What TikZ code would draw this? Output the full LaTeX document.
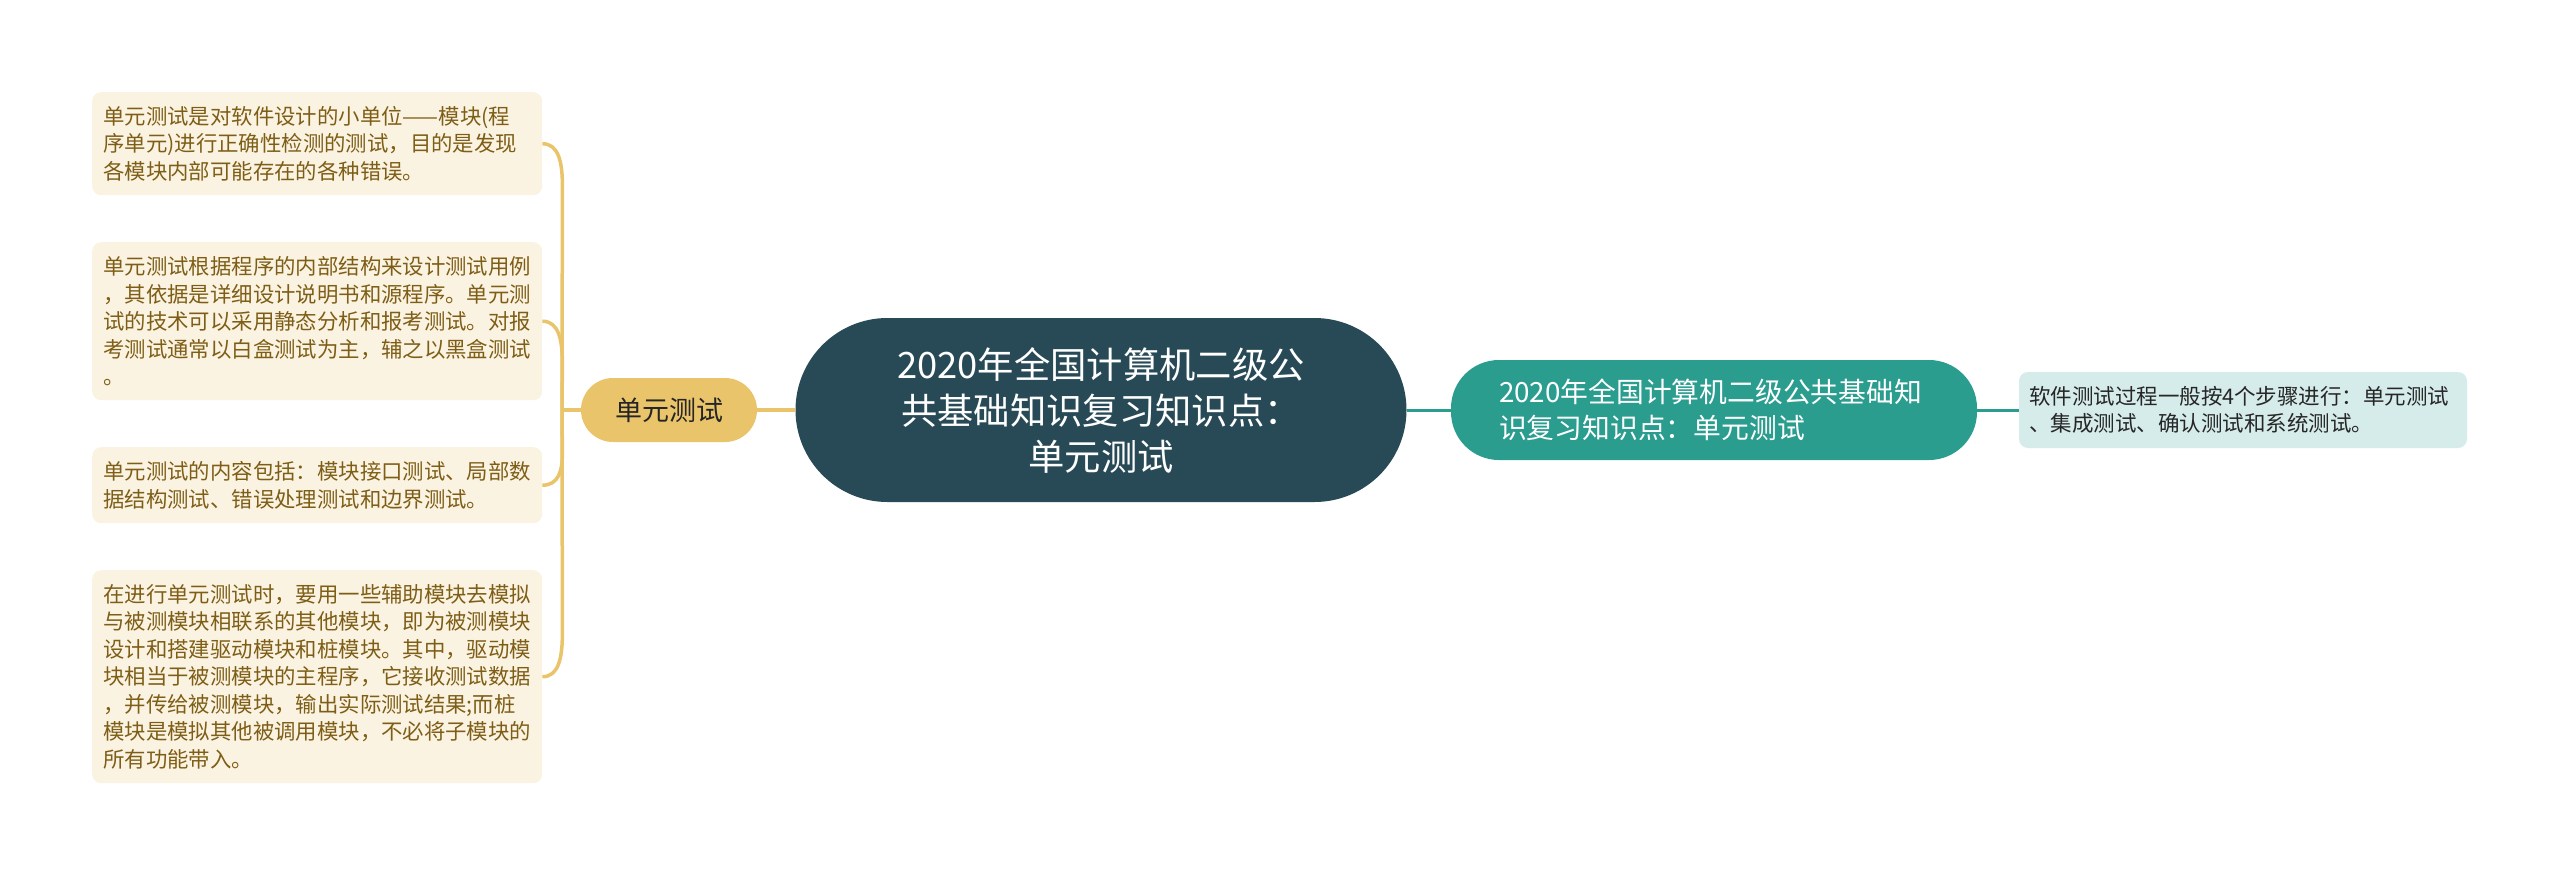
\documentclass[tikz,border=0pt]{standalone}
\usepackage{fontspec}
\setmainfont{Noto Sans CJK SC}
\usetikzlibrary{calc}
\definecolor{cdark}{HTML}{274A56}
\definecolor{cteal}{HTML}{2A9D8F}
\definecolor{cgold}{HTML}{E9C46A}
\definecolor{ccream}{HTML}{FBF3E2}
\definecolor{cbrown}{HTML}{7E5E16}
\definecolor{clteal}{HTML}{D5ECEA}
\tikzset{
  leafbox/.style={draw=none,fill=ccream,rounded corners=9pt,inner xsep=11pt,inner ysep=0pt,
    text width=428pt,align=left,minimum width=450pt,text=cbrown,
    font=\fontsize{21.4}{27.5}\selectfont,anchor=north west},
  goldline/.style={draw=cgold,line width=3.5pt},
  tealline/.style={draw=cteal,line width=3pt},
}
\begin{document}
\begin{tikzpicture}[x=1pt,y=-1pt]
\fill[white] (0,0) rectangle (2560,876);
\useasboundingbox (0,0) rectangle (2560,876);
% center
\node[fill=cdark,text=white,rounded corners=92pt,minimum width=611pt,minimum height=184pt,
  inner sep=0pt,align=center,font=\fontsize{36.3}{46}\selectfont] (c) at (1101,410)
  {2020年全国计算机二级公\\共基础知识复习知识点：\\单元测试};
% left branch
\node[fill=cgold,text=black!85,rounded corners=32pt,minimum width=176pt,minimum height=64pt,
  inner sep=0pt,font=\fontsize{27}{32}\selectfont] (u) at (669,410) {单元测试};
\node[leafbox,minimum height=103pt] (l1) at (92,92)
  {单元测试是对软件设计的小单位——模块(程\\序单元)进行正确性检测的测试，目的是发现\\各模块内部可能存在的各种错误。};
\node[leafbox,minimum height=158pt] (l2) at (92,242)
  {单元测试根据程序的内部结构来设计测试用例\\，其依据是详细设计说明书和源程序。单元测\\试的技术可以采用静态分析和报考测试。对报\\考测试通常以白盒测试为主，辅之以黑盒测试\\。};
\node[leafbox,minimum height=76pt] (l3) at (92,447)
  {单元测试的内容包括：模块接口测试、局部数\\据结构测试、错误处理测试和边界测试。};
\node[leafbox,minimum height=213pt] (l4) at (92,570)
  {在进行单元测试时，要用一些辅助模块去模拟\\与被测模块相联系的其他模块，即为被测模块\\设计和搭建驱动模块和桩模块。其中，驱动模\\块相当于被测模块的主程序，它接收测试数据\\，并传给被测模块，输出实际测试结果;而桩\\模块是模拟其他被调用模块，不必将子模块的\\所有功能带入。};
% right branch
\node[fill=cteal,text=white,rounded corners=48pt,minimum width=526pt,minimum height=100pt,
  inner xsep=48pt,inner ysep=0pt,text width=430pt,align=left,
  font=\fontsize{27.8}{36}\selectfont] (t) at (1714,410)
  {2020年全国计算机二级公共基础知\\识复习知识点：单元测试};
\node[fill=clteal,text=black!85,rounded corners=9pt,minimum width=448pt,minimum height=76pt,
  inner xsep=10pt,inner ysep=0pt,text width=428pt,align=left,
  font=\fontsize{21.5}{26.5}\selectfont] (r) at (2243,410)
  {软件测试过程一般按4个步骤进行：单元测试\\、集成测试、确认测试和系统测试。};
% connectors
\coordinate (j) at (562,410);
\draw[goldline] (c.west) -- (u.east);
\draw[goldline] (u.west) -- (j);
\draw[goldline] (l1.east) .. controls ($(l1.east)+(16,0)$) and ($(l1.east)+(20,18)$) .. ($(l1.east)+(20,42)$) -- (j);
\draw[goldline] (l2.east) .. controls ($(l2.east)+(16,0)$) and ($(l2.east)+(20,18)$) .. ($(l2.east)+(20,42)$) -- (j);
\draw[goldline] (l3.east) .. controls ($(l3.east)+(16,0)$) and ($(l3.east)+(20,-14)$) .. ($(l3.east)+(20,-32)$) -- (j);
\draw[goldline] (l4.east) .. controls ($(l4.east)+(16,0)$) and ($(l4.east)+(20,-18)$) .. ($(l4.east)+(20,-44)$) -- (j);
\draw[tealline] (c.east) -- (t.west);
\draw[tealline] (t.east) -- (r.west);
\end{tikzpicture}
\end{document}
